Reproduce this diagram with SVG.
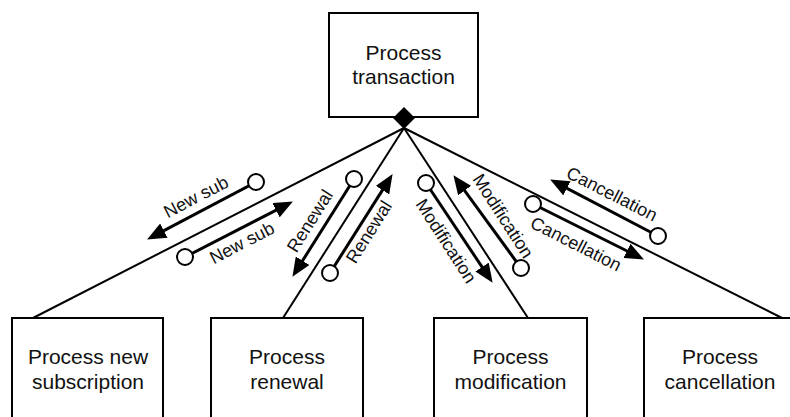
<svg xmlns="http://www.w3.org/2000/svg" width="790" height="417" viewBox="0 0 790 417">
  <defs>
    <marker id="head" markerUnits="userSpaceOnUse" viewBox="0 0 20 16" markerWidth="20" markerHeight="16" refX="8" refY="8" orient="auto">
      <path d="M0,0 L19,8 L0,16 z" fill="#000"/>
    </marker>
  </defs>
  <style>
    .box { fill: #fff; stroke: #000; stroke-width: 2; }
    .link { stroke: #000; stroke-width: 2; fill: none; }
    .flow { stroke: #000; stroke-width: 3; fill: none; marker-end: url(#head); }
    .couple { fill: #fff; stroke: #000; stroke-width: 2; }
    .name { font-family: "Liberation Sans", Arial, sans-serif; font-size: 21px; fill: #111; text-anchor: middle; }
    .lbl { font-family: "Liberation Sans", Arial, sans-serif; font-size: 18px; fill: #111; text-anchor: middle; }
  </style>
  <rect width="790" height="417" fill="#fff"/>

  <!-- structure-chart links from the selector diamond to each module -->
  <g id="connectors">
    <line class="link" x1="404" y1="128" x2="33" y2="318"/>
    <line class="link" x1="404" y1="128" x2="283" y2="318"/>
    <line class="link" x1="404" y1="128" x2="528" y2="318"/>
    <line class="link" x1="404" y1="128" x2="782" y2="318"/>

    <!-- data couples -->
    <g id="couple-newsub-up">
      <line class="flow" x1="256" y1="182" x2="156.8" y2="234.3"/>
      <circle class="couple" cx="256" cy="182" r="8"/>
      <text class="lbl" transform="translate(196,197) rotate(-27.4)" y="6">New sub</text>
    </g>
    <g id="couple-newsub-down">
      <line class="flow" x1="185" y1="257" x2="283.1" y2="206.6"/>
      <circle class="couple" cx="185" cy="257" r="8"/>
      <text class="lbl" transform="translate(242,243) rotate(-27.4)" y="6">New sub</text>
    </g>
    <g id="couple-renewal-up">
      <line class="flow" x1="354" y1="179" x2="298.3" y2="267.5"/>
      <circle class="couple" cx="354" cy="179" r="8"/>
      <text class="lbl" transform="translate(310,221) rotate(-57.8)" y="6">Renewal</text>
    </g>
    <g id="couple-renewal-down">
      <line class="flow" x1="330" y1="273" x2="386.7" y2="183.4"/>
      <circle class="couple" cx="330" cy="273" r="8"/>
      <text class="lbl" transform="translate(369,232) rotate(-57.8)" y="6">Renewal</text>
    </g>
    <g id="couple-modification-down">
      <line class="flow" x1="426" y1="183" x2="486.5" y2="273.7"/>
      <circle class="couple" cx="426" cy="183" r="8"/>
      <text class="lbl" transform="translate(446,241) rotate(57.1)" y="6">Modification</text>
    </g>
    <g id="couple-modification-up">
      <line class="flow" x1="521" y1="268" x2="459.9" y2="184.1"/>
      <circle class="couple" cx="521" cy="268" r="8"/>
      <text class="lbl" transform="translate(503,216) rotate(57.1)" y="6">Modification</text>
    </g>
    <g id="couple-cancellation-up">
      <line class="flow" x1="658" y1="236" x2="559.9" y2="184.6"/>
      <circle class="couple" cx="658" cy="236" r="8"/>
      <text class="lbl" transform="translate(612,194) rotate(26.9)" y="6">Cancellation</text>
    </g>
    <g id="couple-cancellation-down">
      <line class="flow" x1="533" y1="204" x2="634.1" y2="254.5"/>
      <circle class="couple" cx="533" cy="204" r="8"/>
      <text class="lbl" transform="translate(576,244) rotate(26.9)" y="6">Cancellation</text>
    </g>
  </g>

  <g id="process-transaction">
    <rect class="box" x="329" y="13" width="149" height="104"/>
    <text class="name" x="403.5" y="60">Process</text>
    <text class="name" x="403.5" y="84">transaction</text>
    <path d="M404,107 L415,118 L404,129 L393,118 z" fill="#000"/>
  </g>

  <g id="process-new-subscription">
    <rect class="box" x="12" y="318" width="151" height="120"/>
    <text class="name" x="88" y="364">Process new</text>
    <text class="name" x="88" y="389">subscription</text>
  </g>

  <g id="process-renewal">
    <rect class="box" x="211" y="318" width="152" height="120"/>
    <text class="name" x="287" y="364">Process</text>
    <text class="name" x="287" y="389">renewal</text>
  </g>

  <g id="process-modification">
    <rect class="box" x="434" y="318" width="153" height="120"/>
    <text class="name" x="510.5" y="364">Process</text>
    <text class="name" x="510.5" y="389">modification</text>
  </g>

  <g id="process-cancellation">
    <rect class="box" x="644" y="318" width="153" height="120"/>
    <text class="name" x="720" y="364">Process</text>
    <text class="name" x="720" y="389">cancellation</text>
  </g>
</svg>
